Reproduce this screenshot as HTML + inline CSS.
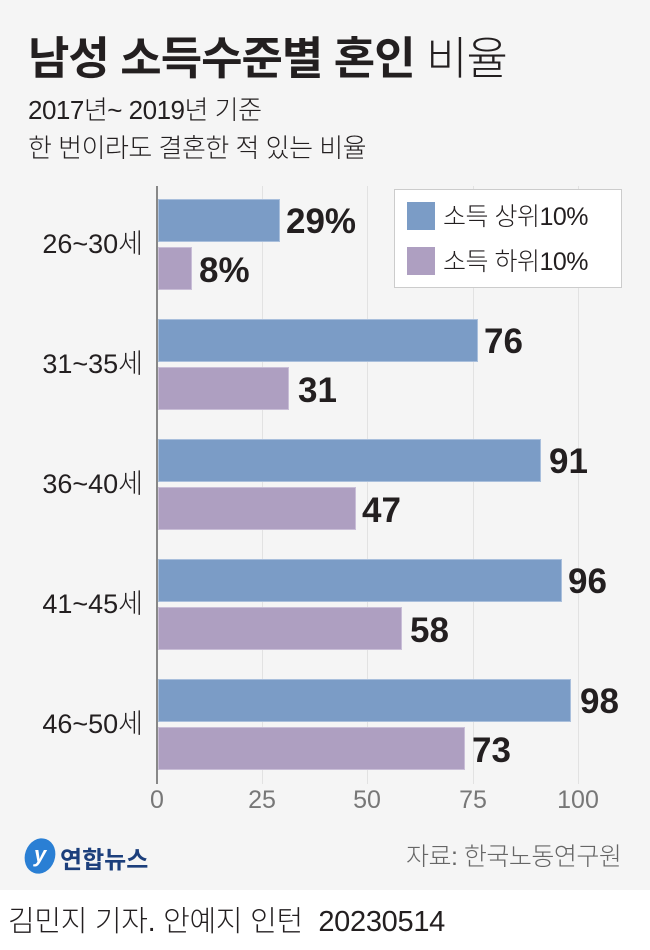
<!DOCTYPE html>
<html><head><meta charset="utf-8"><style>
body{margin:0;width:650px;height:950px;overflow:hidden;background:#fff;font-family:"Liberation Sans","Noto Sans CJK KR",sans-serif;color:#231f20}
.bg{position:absolute;left:0;top:0;width:650px;height:890px;background:#f5f5f5}
.a{position:absolute;white-space:nowrap}
.bar{position:absolute;left:158px;height:43px;box-sizing:border-box}
.b{background:#7b9cc6;border:1px solid #a9bfdc}
.p{background:#ae9fc1;border:1px solid #c9bed7}
.v{position:absolute;font-weight:bold;font-size:35px;line-height:43px}
.g{position:absolute;top:186px;width:1px;height:598px;background:#e2e2e2}
.lab{position:absolute;right:507px;font-size:27px;line-height:43px;font-weight:300}
.t{position:absolute;top:786px;font-size:25px;color:#777;width:60px;margin-left:-30px;text-align:center;font-weight:300}
</style></head><body>
<div class="bg"></div>
<div class="a" style="left:28px;top:22px;font-size:45px;font-weight:bold;letter-spacing:-1px">남성 소득수준별 혼인 <span style="font-weight:300">비율</span></div>
<div class="a" style="left:28px;top:90px;font-size:26px;font-weight:300;letter-spacing:-0.5px">2017년~ 2019년 기준</div>
<div class="a" style="left:28px;top:128px;font-size:26px;font-weight:300;letter-spacing:-0.5px">한 번이라도 결혼한 적 있는 비율</div>

<div class="g" style="left:262px"></div><div class="g" style="left:367px"></div><div class="g" style="left:473px"></div><div class="g" style="left:578px"></div>
<div style="position:absolute;left:156px;top:186px;width:2px;height:598px;background:#888"></div>

<div class="a" style="left:394px;top:189px;width:226px;height:97px;background:#fff;border:1px solid #ccc"></div>
<div class="a" style="left:407px;top:202px;width:28px;height:28px;background:#7b9cc6"></div>
<div class="a" style="left:443px;top:197px;font-size:25px;font-weight:300;letter-spacing:-0.5px">소득 상위10%</div>
<div class="a" style="left:407px;top:247px;width:28px;height:28px;background:#ae9fc1"></div>
<div class="a" style="left:443px;top:242px;font-size:25px;font-weight:300;letter-spacing:-0.5px">소득 하위10%</div>

<div class="bar b" style="top:199px;width:122px"></div><div class="v" style="left:286px;top:200px">29%</div>
<div class="bar p" style="top:247px;width:34px"></div><div class="v" style="left:199px;top:249px">8%</div>
<div class="lab" style="top:223px">26~30세</div>

<div class="bar b" style="top:319px;width:320px"></div><div class="v" style="left:484px;top:320px">76</div>
<div class="bar p" style="top:367px;width:131px"></div><div class="v" style="left:298px;top:369px">31</div>
<div class="lab" style="top:343px">31~35세</div>

<div class="bar b" style="top:439px;width:383px"></div><div class="v" style="left:549px;top:440px">91</div>
<div class="bar p" style="top:487px;width:198px"></div><div class="v" style="left:362px;top:489px">47</div>
<div class="lab" style="top:463px">36~40세</div>

<div class="bar b" style="top:559px;width:404px"></div><div class="v" style="left:568px;top:560px">96</div>
<div class="bar p" style="top:607px;width:244px"></div><div class="v" style="left:410px;top:609px">58</div>
<div class="lab" style="top:583px">41~45세</div>

<div class="bar b" style="top:679px;width:413px"></div><div class="v" style="left:580px;top:680px">98</div>
<div class="bar p" style="top:727px;width:307px"></div><div class="v" style="left:472px;top:729px">73</div>
<div class="lab" style="top:703px">46~50세</div>

<div class="t" style="left:157px">0</div><div class="t" style="left:262px">25</div><div class="t" style="left:367px">50</div><div class="t" style="left:473px">75</div><div class="t" style="left:578px">100</div>

<div class="a" style="left:25px;top:838px;width:30px;height:36px;border-radius:50%;background:#2a7fd4;transform:rotate(20deg)"></div>
<div class="a" style="left:34px;top:842px;font-size:22px;color:#fff;font-style:italic;font-weight:bold">y</div>
<div class="a" style="left:60px;top:840px;font-size:24px;font-weight:bold;color:#1c3f7c">연합뉴스</div>
<div class="a" style="left:406px;top:837px;font-size:25px;color:#666;font-weight:300;letter-spacing:-0.5px">자료: 한국노동연구원</div>
<div class="a" style="left:8px;top:898px;font-size:29px;font-weight:300;letter-spacing:-0.3px">김민지 기자. 안예지 인턴&nbsp; 20230514</div>
</body></html>
